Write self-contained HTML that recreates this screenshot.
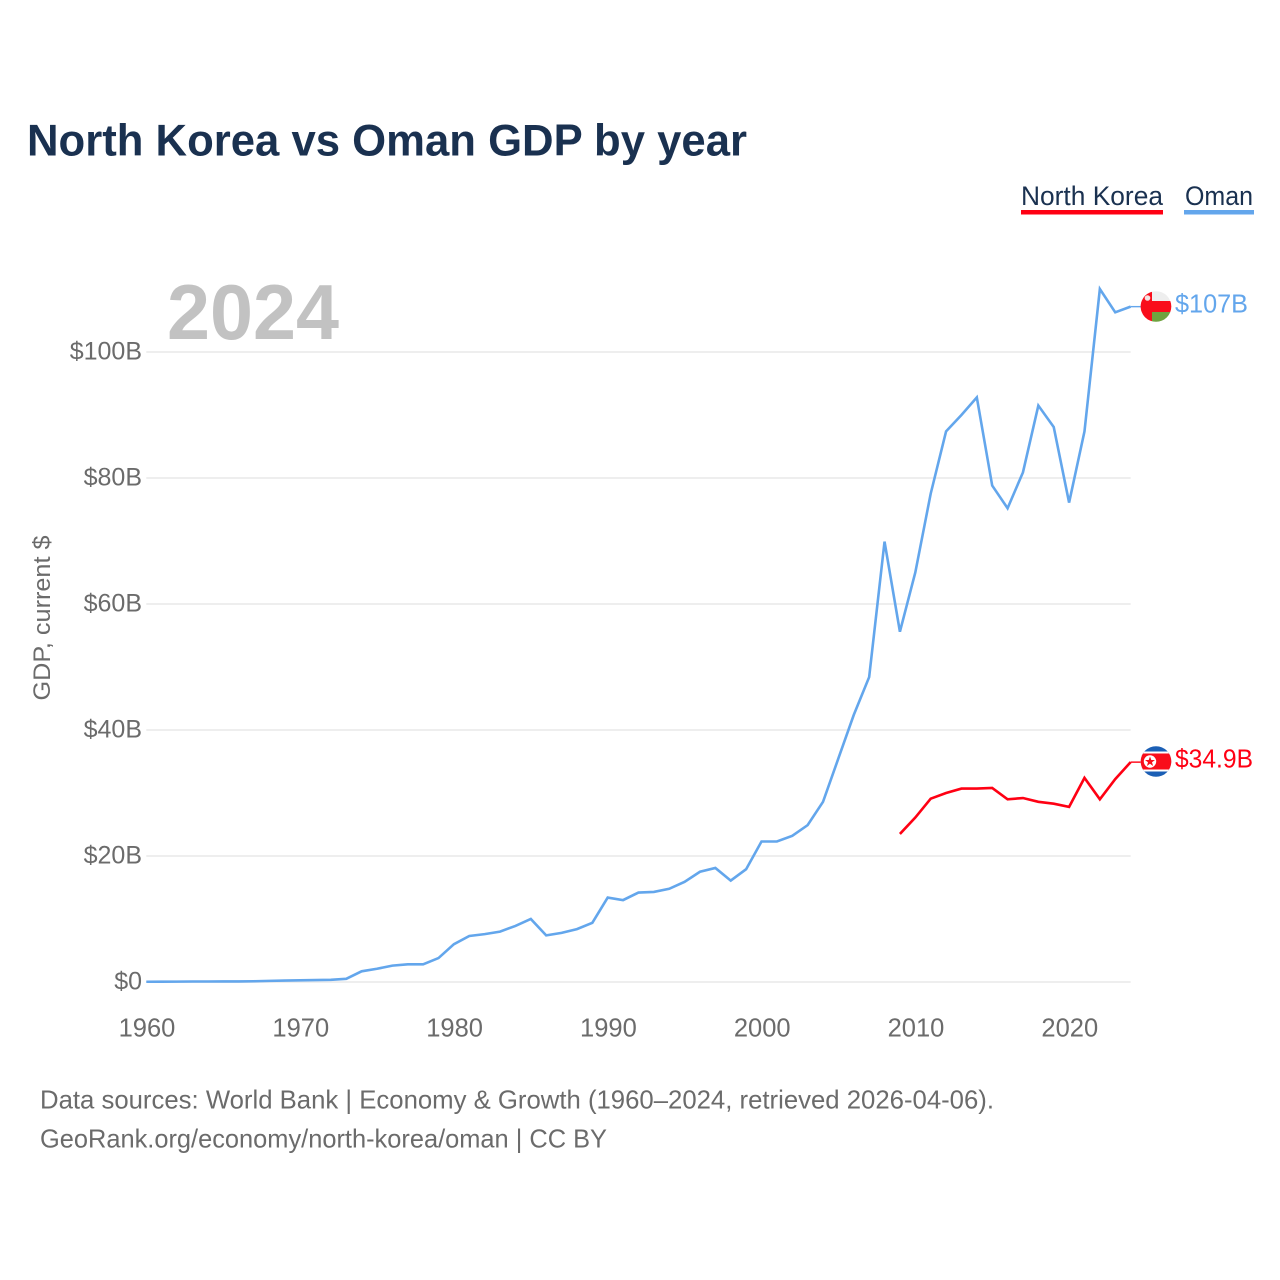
<!DOCTYPE html>
<html lang="en">
<head>
<meta charset="utf-8">
<title>North Korea vs Oman GDP by year</title>
<style>
html,body{margin:0;padding:0;background:#fff}
svg{display:block}
text{font-family:"Liberation Sans",sans-serif}
</style>
</head>
<body>
<svg id="chart" width="1280" height="1280" viewBox="0 0 1280 1280" xmlns="http://www.w3.org/2000/svg">
  <rect x="0" y="0" width="1280" height="1280" fill="#ffffff"/>
  <text x="27" y="155.5" font-size="44.5" font-weight="700" fill="#1a3150" textLength="720" lengthAdjust="spacingAndGlyphs">North Korea vs Oman GDP by year</text>

  <g>
    <text x="1021" y="205" font-size="26.5" fill="#1a3150" textLength="142" lengthAdjust="spacingAndGlyphs">North Korea</text>
    <rect x="1021" y="210" width="142" height="4.5" fill="#ff0013"/>
  </g>
  <g>
    <text x="1185" y="205" font-size="26.5" fill="#1a3150" textLength="68" lengthAdjust="spacingAndGlyphs">Oman</text>
    <rect x="1184" y="210" width="70" height="4.5" fill="#63a6ec"/>
  </g>

  <g id="grid"></g>
  <text x="167" y="339" font-size="78" font-weight="700" fill="#c2c2c2" textLength="172" lengthAdjust="spacingAndGlyphs">2024</text>
  <g id="yticks"></g>
  <g id="xticks"></g>
  <text transform="translate(50,618) rotate(-90)" text-anchor="middle" font-size="24" fill="#6b6b6b" textLength="165" lengthAdjust="spacingAndGlyphs">GDP, current $</text>

  <g id="series"></g>

  <defs>
    <clipPath id="clip-oman"><circle cx="1156" cy="306.5" r="15.3"/></clipPath>
    <clipPath id="clip-nk"><circle cx="1156" cy="761.5" r="15.3"/></clipPath>
  </defs>
  <g id="flag-oman" clip-path="url(#clip-oman)">
    <rect x="1140" y="291" width="32" height="32" fill="#eeeeee"/>
    <rect x="1140" y="301" width="32" height="11" fill="#f90d1b"/>
    <rect x="1152" y="312" width="20" height="11" fill="#6fa33f"/>
    <rect x="1140" y="291" width="12" height="32" fill="#f90d1b"/>
    <circle cx="1147.5" cy="298" r="2.8" fill="#f4e3e3"/>
  </g>
  <g id="flag-nk" clip-path="url(#clip-nk)">
    <rect x="1140" y="746" width="32" height="32" fill="#1b5fb5"/>
    <rect x="1140" y="751.5" width="32" height="20" fill="#ffffff"/>
    <rect x="1140" y="753.5" width="32" height="16" fill="#f90d1b"/>
    <circle cx="1150" cy="761.5" r="6.2" fill="#ffffff"/>
    <polygon points="1150,756.5 1151.3,760 1155,760 1152,762.3 1153.1,766 1150,763.8 1146.9,766 1148,762.3 1145,760 1148.7,760" fill="#f90d1b"/>
  </g>
  <text id="value-oman" x="1175" y="312.5" font-size="25.5" fill="#63a6ec" textLength="73" lengthAdjust="spacingAndGlyphs"></text>
  <text id="value-nk" x="1175" y="767.5" font-size="25.5" fill="#ff0013" textLength="78" lengthAdjust="spacingAndGlyphs"></text>

  <text x="40" y="1108.5" font-size="26" fill="#6b6b6b" textLength="954" lengthAdjust="spacingAndGlyphs">Data sources: World Bank | Economy &amp; Growth (1960–2024, retrieved 2026-04-06).</text>
  <a><text x="40" y="1147.5" font-size="26" fill="#6b6b6b" textLength="567" lengthAdjust="spacingAndGlyphs">GeoRank.org/economy/north-korea/oman | CC BY</text></a>
</svg>
<script>
const omanYears = [1960,1961,1962,1963,1964,1965,1966,1967,1968,1969,1970,1971,1972,1973,1974,1975,1976,1977,1978,1979,1980,1981,1982,1983,1984,1985,1986,1987,1988,1989,1990,1991,1992,1993,1994,1995,1996,1997,1998,1999,2000,2001,2002,2003,2004,2005,2006,2007,2008,2009,2010,2011,2012,2013,2014,2015,2016,2017,2018,2019,2020,2021,2022,2023,2024];
const omanGdp = [0.04,0.05,0.06,0.08,0.08,0.09,0.09,0.12,0.18,0.22,0.26,0.3,0.35,0.5,1.7,2.1,2.6,2.8,2.8,3.8,6.0,7.3,7.6,8.0,8.9,10.0,7.4,7.8,8.4,9.4,13.4,13.0,14.2,14.3,14.8,15.9,17.5,18.1,16.1,17.9,22.3,22.3,23.2,24.9,28.6,35.5,42.4,48.4,69.9,55.6,65.0,77.5,87.4,90.0,92.8,78.8,75.2,80.9,91.5,88.1,76.1,87.4,110.0,106.3,107.2];
const nkYears = [2009,2010,2011,2012,2013,2014,2015,2016,2017,2018,2019,2020,2021,2022,2023,2024];
const nkGdp = [23.5,26.1,29.1,30.0,30.7,30.7,30.8,29.0,29.2,28.6,28.3,27.8,32.4,29.0,32.2,34.9];
const yTickValues = [0,20,40,60,80,100];
const yTickLabels = ['$0','$20B','$40B','$60B','$80B','$100B'];
const xTickValues = [1960,1970,1980,1990,2000,2010,2020];
const latestOmanLabel = '$107B';
const latestNkLabel = '$34.9B';

const NS = 'http://www.w3.org/2000/svg';
const xScale = function (year) { return 146.3 + (year - 1960) * 15.38; };
const yScale = function (v) { return 982 - v * 6.3; };
const gridGroup = document.getElementById('grid');
const yGroup = document.getElementById('yticks');
const xGroup = document.getElementById('xticks');
const seriesGroup = document.getElementById('series');

yTickValues.forEach(function (v, i) {
  const line = document.createElementNS(NS, 'line');
  
  
  line.setAttribute('x1', xScale(1960));
  line.setAttribute('x2', xScale(2024));
  line.setAttribute('y1', yScale(v));
  line.setAttribute('y2', yScale(v));
  line.setAttribute('stroke', '#eeeeee');
  line.setAttribute('stroke-width', 2);
  gridGroup.appendChild(line);

  const label = document.createElementNS(NS, 'text');
  
  
  label.setAttribute('x', 142);
  label.setAttribute('y', yScale(v) + 7.5);
  label.setAttribute('text-anchor', 'end');
  label.setAttribute('font-size', 25);
  label.setAttribute('fill', '#6b6b6b');
  label.textContent = yTickLabels[i];
  yGroup.appendChild(label);
});

xTickValues.forEach(function (year) {
  const label = document.createElementNS(NS, 'text');
  
  
  label.setAttribute('x', xScale(year) + 0.7);
  label.setAttribute('y', 1036.5);
  label.setAttribute('text-anchor', 'middle');
  label.setAttribute('font-size', 25.5);
  label.setAttribute('fill', '#6b6b6b');
  label.textContent = String(year);
  xGroup.appendChild(label);
});

function pathFor(years, values) {
  const pts = years.map(function (y, i) { return xScale(y).toFixed(2) + ',' + yScale(values[i]).toFixed(2); });
  return pts.join(' ');
}

const omanLine = document.createElementNS(NS, 'polyline');


omanLine.setAttribute('points', pathFor(omanYears, omanGdp));
omanLine.setAttribute('fill', 'none');
omanLine.setAttribute('stroke', '#63a6ec');
omanLine.setAttribute('stroke-width', 2.6);
seriesGroup.appendChild(omanLine);

const nkLine = document.createElementNS(NS, 'polyline');


nkLine.setAttribute('points', pathFor(nkYears, nkGdp));
nkLine.setAttribute('fill', 'none');
nkLine.setAttribute('stroke', '#ff0013');
nkLine.setAttribute('stroke-width', 2.6);
seriesGroup.appendChild(nkLine);

const omanConnector = document.createElementNS(NS, 'line');


omanConnector.setAttribute('x1', xScale(2024));
omanConnector.setAttribute('x2', 1141);
omanConnector.setAttribute('y1', yScale(omanGdp[omanGdp.length - 1]));
omanConnector.setAttribute('y2', yScale(omanGdp[omanGdp.length - 1]));
omanConnector.setAttribute('stroke', '#63a6ec');
omanConnector.setAttribute('stroke-width', 1.4);
seriesGroup.appendChild(omanConnector);

const nkConnector = document.createElementNS(NS, 'line');


nkConnector.setAttribute('x1', xScale(2024));
nkConnector.setAttribute('x2', 1141);
nkConnector.setAttribute('y1', yScale(nkGdp[nkGdp.length - 1]));
nkConnector.setAttribute('y2', yScale(nkGdp[nkGdp.length - 1]));
nkConnector.setAttribute('stroke', '#ff0013');
nkConnector.setAttribute('stroke-width', 1.4);
seriesGroup.appendChild(nkConnector);

document.getElementById('value-oman').textContent = latestOmanLabel;
document.getElementById('value-nk').textContent = latestNkLabel;
</script>
</body>
</html>
